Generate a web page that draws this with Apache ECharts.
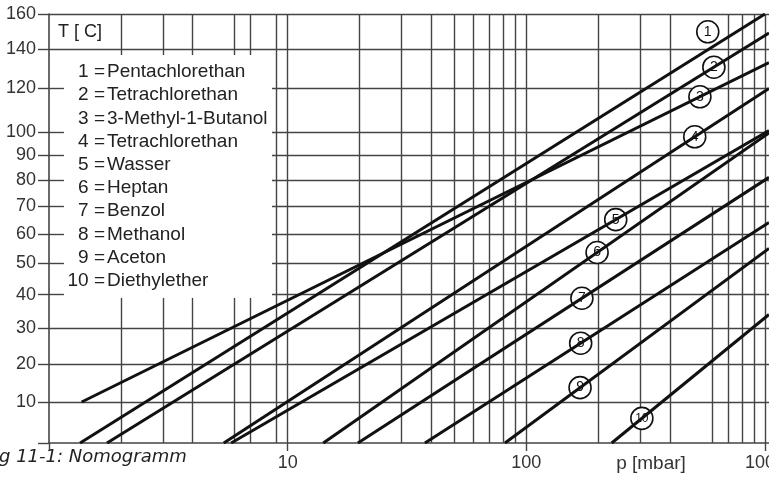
<!DOCTYPE html>
<html>
<head>
<meta charset="utf-8">
<script src="https://cdn.jsdelivr.net/npm/echarts@6/dist/echarts.min.js"></script>
<style>
  html, body { margin: 0; padding: 0; background: #fff; }
  #chart { width: 769px; height: 477px; }
</style>
</head>
<body>
<div id="chart"></div>
<script>
// Nomogramm: Dampfdruck p [mbar] (log) gegen T [C] auf einer 1/T-Skala
const names = ["Pentachlorethan", "Tetrachlorethan", "3-Methyl-1-Butanol", "Tetrachlorethan",
  "Wasser", "Heptan", "Benzol", "Methanol", "Aceton", "Diethylether"];
// Anfangs- und Endpunkt jeder Geraden, [p in mbar, T in C]
const lineStart = [[1.35, 0], [1.75, 0], [1.37, 10], [5.4, 0], [5.8, 0],
  [14.1, 0], [19.7, 0], [37.6, 0], [81.4, 0], [228, 0]];
const lineEnd = [[1000, 160], [1040, 149], [1040, 133], [1040, 120], [1040, 100.5],
  [1040, 99.5], [1040, 81], [1040, 64], [1040, 55], [1040, 34]];
// Druck, bei dem die Nummer auf der Geraden sitzt
const markerP = [576, 611, 534, 508, 237, 198, 171, 169, 168, 305];
const tTicks = [10, 20, 30, 40, 50, 60, 70, 80, 90, 100, 120, 140, 160];
const pLabels = [10, 100, 1000];
const pGrid = [2, 3, 4, 6, 7, 9, 10, 20, 30, 40, 50, 60, 70, 80, 90, 100,
  200, 300, 400, 700, 800, 900, 1000];
const pMin = 1, pMax = 1040, tMin = 0, tMax = 160;

// x-Achse: log10(p), y-Achse: -1000 / T[K]
const lp = (p) => Math.log10(p);
const tf = (t) => -1000 / (t + 273.15);
const gridColor = "#444";
const font = "Liberation Sans, Arial, sans-serif";

// Legendenfeld links oben: dort keine Gitterlinien
const boxP = [1.155, 8.6];   // p-Bereich des Feldes
const boxT = [39, 137];      // T-Bereich des Feldes

const chart = echarts.init(document.getElementById("chart"));

// Gitterlinien als markLine
const seg = (p1, t1, p2, t2) => [{ coord: [lp(p1), tf(t1)] }, { coord: [lp(p2), tf(t2)] }];
const gridLines = [];
pGrid.forEach((p) => {
  if (p < boxP[1]) {
    gridLines.push(seg(p, tMin, p, boxT[0]));
    gridLines.push(seg(p, boxT[1], p, tMax));
  } else {
    gridLines.push(seg(p, tMin, p, tMax));
  }
});
gridLines.push(seg(600, tMin, 600, 70));
tTicks.forEach((t) => {
  if (t > boxT[0] && t < boxT[1]) {
    gridLines.push(seg(pMin, t, boxP[0], t));
    gridLines.push(seg(boxP[1], t, pMax, t));
  } else {
    gridLines.push(seg(pMin, t, pMax, t));
  }
});

const series = [
  {
    type: "line",
    name: "grid",
    z: 1,
    data: [[0, tf(tMin)]],
    showSymbol: false,
    silent: true,
    lineStyle: { width: 0 },
    markLine: {
      silent: true,
      symbol: ["none", "none"],
      animation: false,
      label: { show: false },
      lineStyle: { color: gridColor, width: 1.4, type: "solid" },
      data: gridLines,
    },
  },
];

names.forEach((name, i) => {
  const a = lineStart[i], b = lineEnd[i];
  // Position der Nummer auf der Geraden
  const tt = (lp(markerP[i]) - lp(a[0])) / (lp(b[0]) - lp(a[0]));
  const fm = tf(a[1]) + tt * (tf(b[1]) - tf(a[1]));
  series.push({
    type: "line",
    name: name,
    z: 10,
    data: [[lp(a[0]), tf(a[1])], [lp(b[0]), tf(b[1])]],
    showSymbol: false,
    silent: true,
    animation: false,
    lineStyle: { color: "#111", width: 3 },
    markPoint: {
      symbol: "circle",
      symbolSize: 22,
      symbolOffset: i === 0 ? [0, -18] : [0, 0],
      silent: true,
      animation: false,
      itemStyle: { color: "#fff", borderColor: "#111", borderWidth: 1.6 },
      label: {
        show: true,
        formatter: String(i + 1),
        color: "#111",
        fontFamily: font,
        fontSize: i === 9 ? 12 : 14,
      },
      data: [{ coord: [lp(markerP[i]), fm] }],
    },
  });
});

// Legende
const legendItems = [];
names.forEach((name, i) => {
  const y = 72 + i * 23.2;
  legendItems.push({
    type: "text", z: 20,
    style: { text: (i + 1) + " =", x: 105, y: y, align: "right", verticalAlign: "middle",
      textAlign: "right", textVerticalAlign: "middle", font: "19px " + font, fill: "#222" },
  });
  legendItems.push({
    type: "text", z: 20,
    style: { text: name, x: 107, y: y, align: "left", verticalAlign: "middle",
      textAlign: "left", textVerticalAlign: "middle", font: "19px " + font, fill: "#222" },
  });
});

const option = {
  backgroundColor: "#fff",
  animation: false,
  grid: {
    left: 49, right: 0, top: 14, bottom: 477 - 443,
    containLabel: false,
    outerBoundsMode: "none",
  },
  xAxis: {
    type: "value",
    min: lp(pMin),
    max: lp(pMax),
    axisLine: { show: true, lineStyle: { color: gridColor, width: 1.6 } },
    axisTick: {
      show: true,
      length: 8,
      customValues: [pMin].concat(pLabels).map(lp),
      lineStyle: { color: gridColor, width: 1.4 },
    },
    splitLine: { show: false },
    axisLabel: {
      margin: 11,
      color: "#333",
      fontFamily: font,
      fontSize: 18,
      customValues: pLabels.map(lp),
      formatter: (v) => String(Math.round(Math.pow(10, v))),
    },
  },
  yAxis: {
    type: "value",
    min: tf(tMin),
    max: tf(tMax),
    axisLine: { show: true, lineStyle: { color: gridColor, width: 1.6 } },
    axisTick: {
      show: true,
      length: 11,
      customValues: [tMin].concat(tTicks).map(tf),
      lineStyle: { color: gridColor, width: 1.4 },
    },
    splitLine: { show: false },
    axisLabel: {
      margin: 13,
      color: "#333",
      fontFamily: font,
      fontSize: 18,
      customValues: tTicks.map(tf),
      formatter: (v) => String(Math.round(-1000 / v - 273.15)),
    },
  },
  graphic: [
    { type: "text", z: 20,
      style: { text: "T [ C]", x: 58, y: 32, verticalAlign: "middle", textVerticalAlign: "middle",
        font: "18px " + font, fill: "#222" } },
    { type: "text", z: 20,
      style: { text: "p [mbar]", x: 651, y: 464, align: "center", verticalAlign: "middle",
        textAlign: "center", textVerticalAlign: "middle", font: "19px " + font, fill: "#333" } },
    { type: "text", z: 20,
      style: { text: "g 11-1: Nomogramm", x: -1, y: 457, verticalAlign: "middle",
        textVerticalAlign: "middle", font: "italic 18px DejaVu Sans", fill: "#222" } },
  ].concat(legendItems),
  series: series,
};

chart.setOption(option);
</script>
</body>
</html>
